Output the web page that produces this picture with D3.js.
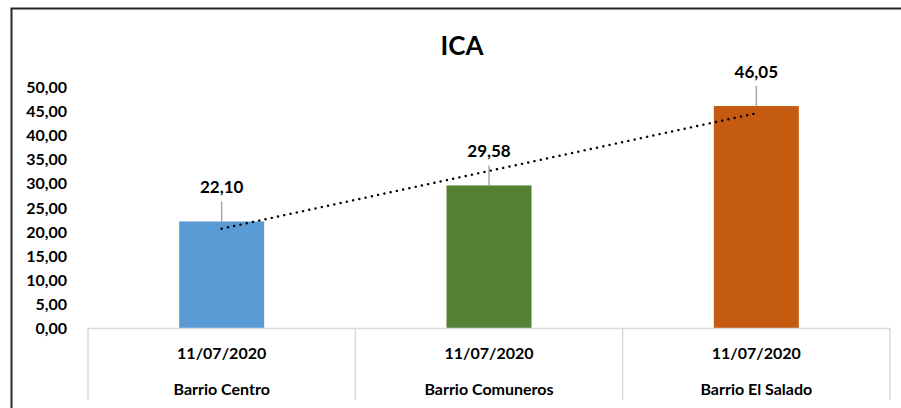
<!DOCTYPE html>
<html>
<head>
<meta charset="utf-8">
<script src="https://cdn.jsdelivr.net/npm/d3@7/dist/d3.min.js"></script>
<style>
  body { margin: 0; background: #fff; }
  text { font-family: Lato, "Open Sans", sans-serif; font-weight: bold; fill: #000; }
</style>
</head>
<body>
<svg id="chart"></svg>
<script>
// data
var barrios = ["Barrio Centro", "Barrio Comuneros", "Barrio El Salado"];
var fechas = ["11/07/2020", "11/07/2020", "11/07/2020"];
var ica = [22.10, 29.58, 46.05];
var colores = ["#5b9bd5", "#548235", "#c55a11"];
var yTicks = [0, 5, 10, 15, 20, 25, 30, 35, 40, 45, 50];

var width = 901, height = 408;
var plotLeft = 88, plotRight = 890, plotTop = 87, plotBottom = 328;

var svg = d3.select("#chart").attr("width", width).attr("height", height);

// chart border (left + top only visible)
svg.append("path")
    .attr("d", "M11.5," + height + "V8.5H" + width)
    .attr("fill", "none")
    .attr("stroke", "#262626")
    .attr("stroke-width", 2);

var fmt = function (v) { return d3.format(".2f")(v).replace(".", ","); };

var x = d3.scaleBand().domain(d3.range(ica.length)).range([plotLeft, plotRight]).paddingInner(0).paddingOuter(0);
var y = d3.scaleLinear().domain([0, 50]).range([plotBottom, plotTop]);
var barW = 85;

// title
svg.append("text")
    .attr("x", 462).attr("y", 55)
    .attr("text-anchor", "middle")
    .attr("font-size", "26px")
    .text("ICA");

// y axis labels
svg.selectAll(".ytick")
    .data(yTicks)
    .enter().append("text")
    .attr("class", "ytick")
    .attr("x", 67)
    .attr("y", function (d) { return y(d) + 6; })
    .attr("text-anchor", "end")
    .attr("font-size", "16px")
    .text(fmt);

// bars
svg.selectAll(".bar")
    .data(ica)
    .enter().append("rect")
    .attr("class", "bar")
    .attr("x", function (d, i) { return x(i) + x.bandwidth() / 2 - barW / 2; })
    .attr("width", barW)
    .attr("y", function (d) { return y(d); })
    .attr("height", function (d) { return plotBottom - y(d); })
    .attr("fill", function (d, i) { return colores[i]; });

// leader lines + labels
svg.selectAll(".leader")
    .data(ica)
    .enter().append("line")
    .attr("x1", function (d, i) { return x(i) + x.bandwidth() / 2; })
    .attr("x2", function (d, i) { return x(i) + x.bandwidth() / 2; })
    .attr("y1", function (d) { return y(d); })
    .attr("y2", function (d) { return y(d) - 20; })
    .attr("stroke", "#a6a6a6")
    .attr("stroke-width", 1.5);

svg.selectAll(".lbl")
    .data(ica)
    .enter().append("text")
    .attr("x", function (d, i) { return x(i) + x.bandwidth() / 2; })
    .attr("y", function (d) { return y(d) - 28; })
    .attr("text-anchor", "middle")
    .attr("font-size", "17px")
    .text(fmt);

// linear trendline (least squares)
var xs = ica.map(function (d, i) { return i + 1; });
var mx = d3.mean(xs), my = d3.mean(ica);
var slope = d3.sum(xs, function (v, i) { return (v - mx) * (ica[i] - my); }) /
            d3.sum(xs, function (v) { return (v - mx) * (v - mx); });
var icpt = my - slope * mx;
var first = 0, last = ica.length - 1;
svg.append("line")
    .attr("x1", x(first) + x.bandwidth() / 2)
    .attr("y1", y(icpt + slope * (first + 1)))
    .attr("x2", x(last) + x.bandwidth() / 2)
    .attr("y2", y(icpt + slope * (last + 1)))
    .attr("stroke", "#000")
    .attr("stroke-width", 2.4)
    .attr("stroke-linecap", "round")
    .attr("stroke-dasharray", "0.1 6.3");

// category axis
var grid = "#d9d9d9";
svg.append("line")
    .attr("x1", plotLeft).attr("x2", plotRight)
    .attr("y1", plotBottom + 0.5).attr("y2", plotBottom + 0.5)
    .attr("stroke", grid).attr("stroke-width", 1.5);

var seps = d3.range(ica.length + 1).map(function (i) { return plotLeft + i * x.bandwidth(); });
svg.selectAll(".sep")
    .data(seps)
    .enter().append("line")
    .attr("x1", function (d) { return d; })
    .attr("x2", function (d) { return d; })
    .attr("y1", plotBottom)
    .attr("y2", 400)
    .attr("stroke", grid).attr("stroke-width", 1.5);

svg.selectAll(".fecha")
    .data(fechas)
    .enter().append("text")
    .attr("x", function (d, i) { return x(i) + x.bandwidth() / 2; })
    .attr("y", 359)
    .attr("text-anchor", "middle")
    .attr("font-size", "16px")
    .text(function (d) { return d; });

svg.selectAll(".barrio")
    .data(barrios)
    .enter().append("text")
    .attr("x", function (d, i) { return x(i) + x.bandwidth() / 2; })
    .attr("y", 395)
    .attr("text-anchor", "middle")
    .attr("font-size", "16px")
    .text(function (d) { return d; });
</script>
</body>
</html>
